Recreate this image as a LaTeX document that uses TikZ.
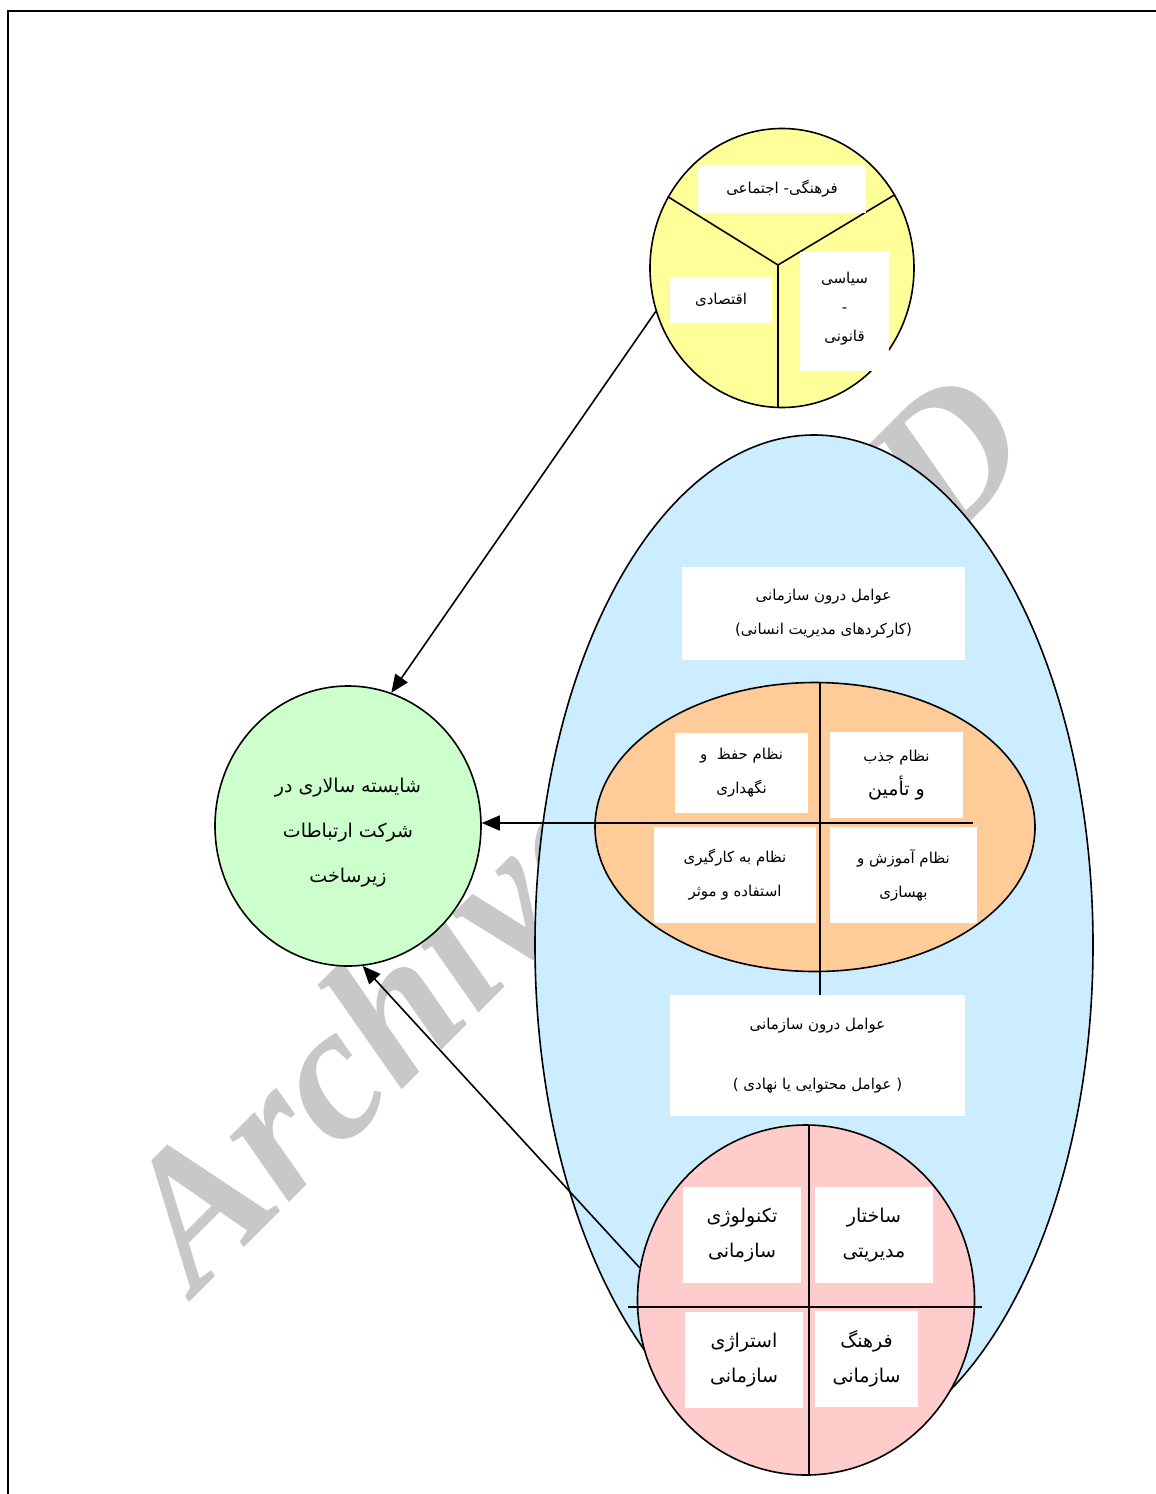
\documentclass[tikz,border=0pt]{standalone}
\usepackage{fontspec}
\usepackage{tikz}
\usetikzlibrary{shapes.geometric, arrows.meta, positioning, calc}
\TeXXeTstate=1
\newfontfamily\arabicfont[Script=Arabic]{DejaVu Sans}
\newfontfamily\wmfont{Liberation Serif}
\definecolor{yellowfill}{RGB}{255,255,153}
\definecolor{bluefill}{RGB}{204,236,255}
\definecolor{orangefill}{RGB}{255,204,153}
\definecolor{greenfill}{RGB}{204,255,204}
\definecolor{pinkfill}{RGB}{255,204,204}
\definecolor{wmgray}{RGB}{200,200,200}

\begin{document}
\begin{tikzpicture}[
    x=0.5pt, y=-0.5pt,
    ring/.style={ellipse, draw, line width=0.8pt, inner sep=0pt},
    lbl/.style={rectangle, fill=white, inner sep=0pt, align=center, font=\arabicfont\fontsize{7.5}{17}\selectfont},
    biglbl/.style={lbl, font=\arabicfont\fontsize{9.5}{17.5}\selectfont},
    divider/.style={line width=0.8pt},
    arr/.style={-{Triangle[length=9pt,width=7.5pt]}, line width=0.8pt},
]
\useasboundingbox (0,0) rectangle (1156,1494);

% watermark behind everything
\node[anchor=base west, rotate=45, text=wmgray, inner sep=0pt, font=\wmfont\bfseries\itshape\fontsize{96}{96}\selectfont] (mark) at (196,1296) {Archive of SID};

% frame
\draw[line width=0.9pt] (1156,11) -- (8,11) -- (8,1494);

% inner factors
\node[ring, fill=bluefill, minimum width=279pt, minimum height=510pt] (inner) at (814,945) {};
\node[lbl, minimum width=141.5pt, minimum height=46.5pt] (hrmbox) at (823.5,613.5)
    {\beginR عوامل درون سازمانی\endR\\\beginR (کارکردهای مدیریت انسانی)\endR};
\node[lbl, minimum width=147.5pt, minimum height=60.5pt] (instbox) at (817.5,1055.5)
    {\beginR عوامل درون سازمانی\endR\\[13pt]\beginR ( عوامل محتوایی یا نهادی )\endR};

% HR functions
\node[ring, fill=orangefill, minimum width=220pt, minimum height=144.5pt] (hr) at (815,827) {};
\coordinate (hrtop) at (820,683);
\coordinate (hrfoot) at (820,995);
\coordinate (hrleft) at (648,823);
\coordinate (hrright) at (973,823);
\coordinate (hrout) at (715,823);
\draw[divider] (hrtop) -- (hrfoot);
\draw[divider] (hrleft) -- (hrright);
\node[lbl, minimum width=66.5pt, minimum height=40pt] (keep) at (741.5,773) {\beginR نظام حفظ\ \ و\endR\\\beginR نگهداری\endR};
\node[lbl, minimum width=66.5pt, minimum height=43pt] (recruit) at (896.5,775) {\beginR نظام جذب\endR\\{\fontsize{9.5}{17}\selectfont\beginR و تأمین\endR}};
\node[lbl, minimum width=81pt, minimum height=48pt] (utilize) at (735,875) {\beginR نظام به کارگیری\endR\\\beginR استفاده و موثر\endR};
\node[lbl, minimum width=73.5pt, minimum height=48pt] (train) at (903.5,875) {\beginR نظام آموزش و\endR\\\beginR بهسازی\endR};

% institutional factors
\node[ring, fill=pinkfill, minimum width=168.5pt, minimum height=175pt] (inst) at (806,1300) {};
\coordinate (insttop) at (809,1125);
\coordinate (instfoot) at (809,1475);
\coordinate (instleft) at (628,1307);
\coordinate (instright) at (982,1307);
\draw[divider] (insttop) -- (instfoot);
\draw[divider] (instleft) -- (instright);
\node[biglbl, minimum width=59pt, minimum height=48pt] (tech) at (742,1235) {\beginR تکنولوژی\endR\\\beginR سازمانی\endR};
\node[biglbl, minimum width=59pt, minimum height=48pt] (struct) at (874,1235) {\beginR ساختار\endR\\\beginR مدیریتی\endR};
\node[biglbl, minimum width=59pt, minimum height=48pt] (strat) at (744,1360) {\beginR استراژی\endR\\\beginR سازمانی\endR};
\node[biglbl, minimum width=51.5pt, minimum height=48pt] (culture) at (866.5,1359) {\beginR فرهنگ\endR\\\beginR سازمانی\endR};

% outer environment
\node[ring, fill=yellowfill, minimum width=132pt, minimum height=139.5pt] (env) at (782,268) {};
\coordinate (envmid) at (778,265);
\draw[divider] (envmid) -- (env.148);
\draw[divider] (envmid) -- (env.33);
\draw[divider] (envmid) -- (envmid |- env.south);
\node[lbl, minimum width=84pt, minimum height=24pt] (social) at (782,189) {\beginR فرهنگی- اجتماعی\endR};
\node[lbl, minimum width=51pt, minimum height=23pt] (econ) at (721,300) {\beginR اقتصادی\endR};
\node[lbl, minimum width=44.5pt, minimum height=59.5pt, font=\arabicfont\fontsize{7.5}{14.5}\selectfont] (legal) at (844.5,311.5)
    {\beginR سیاسی\endR\\-\\\beginR قانونی\endR\\[-9.5pt]};

% meritocracy
\node[ring, fill=greenfill, minimum width=133pt, minimum height=140pt,
      label={[yshift=-3.5pt, align=center, font=\arabicfont\fontsize{9.5}{22.5}\selectfont]center:{\beginR شایسته سالاری در\endR\\\beginR شرکت ارتباطات\endR\\\beginR زیرساخت\endR}}] (merit) at (348,826) {};

% influences
\draw[arr] (env.199) -- (merit.72);
\draw[arr] (hrout) -- (hrout -| merit.east);
\draw[arr] (inst.169) -- (merit.276);
\end{tikzpicture}
\end{document}
